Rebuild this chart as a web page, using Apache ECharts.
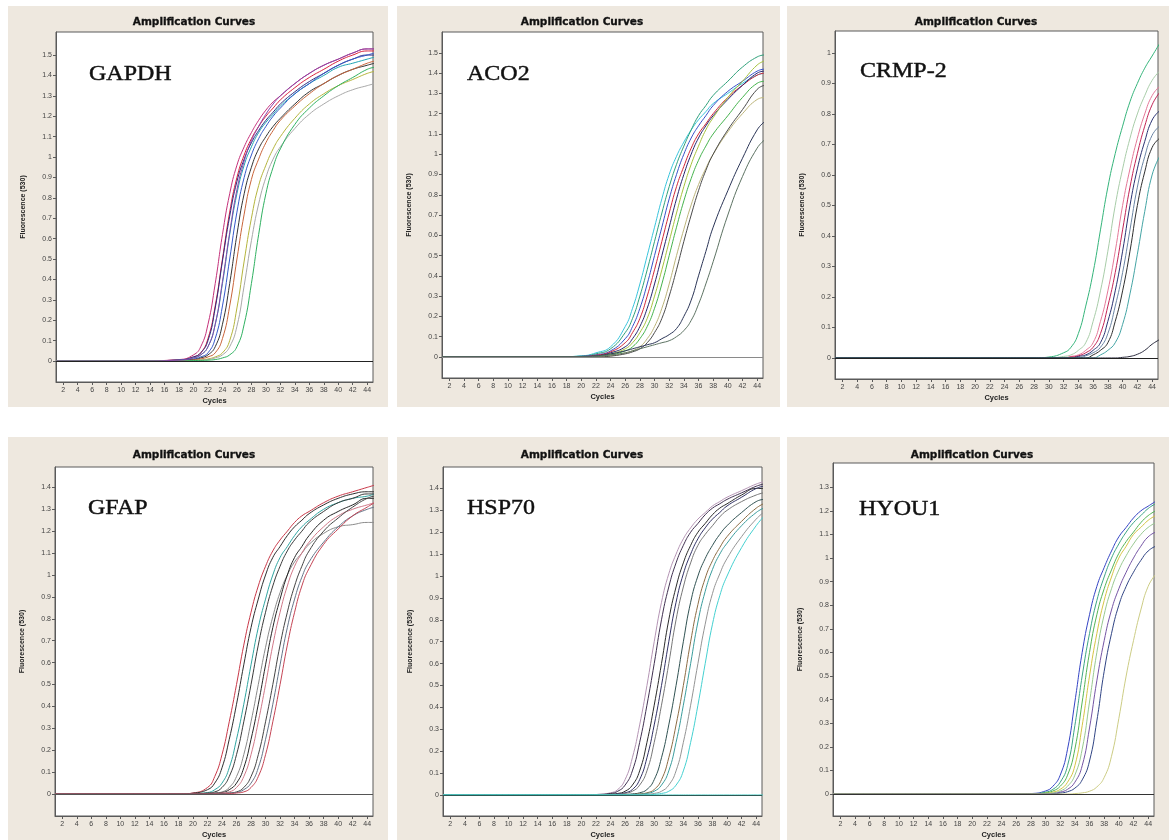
<!DOCTYPE html>
<html>
<head>
<meta charset="UTF-8">
<title>Amplification Curves</title>
<script src="https://cdn.jsdelivr.net/npm/echarts@6/dist/echarts.min.js"></script>
<style>
  html, body { margin: 0; padding: 0; background: #fff; }
  #main { width: 1169px; height: 840px; }
</style>
</head>
<body>
<div id="main"></div>
<script>
// ---- tick labels ----
var xTicks = [2, 4, 6, 8, 10, 12, 14, 16, 18, 20, 22, 24, 26, 28, 30, 32, 34, 36, 38, 40, 42, 44];
var yTicks15 = [0, 0.1, 0.2, 0.3, 0.4, 0.5, 0.6, 0.7, 0.8, 0.9, 1, 1.1, 1.2, 1.3, 1.4, 1.5];
var yTicks14 = [0, 0.1, 0.2, 0.3, 0.4, 0.5, 0.6, 0.7, 0.8, 0.9, 1, 1.1, 1.2, 1.3, 1.4];
var yTicks13 = [0, 0.1, 0.2, 0.3, 0.4, 0.5, 0.6, 0.7, 0.8, 0.9, 1, 1.1, 1.2, 1.3];
var yTicks10 = [0, 0.1, 0.2, 0.3, 0.4, 0.5, 0.6, 0.7, 0.8, 0.9, 1];

// ---- GAPDH ----
var gapdhCycles = [1, 12, 18, 20, 21, 22, 23, 24, 25, 26, 27, 28, 29, 30, 31, 32, 34, 36, 38, 40, 42, 44, 45];
var gapdhCurves = [
    [0, 0, 0.007, 0.03, 0.07, 0.18, 0.38, 0.62, 0.82, 0.96, 1.05, 1.12, 1.18, 1.23, 1.27, 1.30, 1.36, 1.41, 1.45, 1.48, 1.51, 1.53, 1.53],
    [0, 0, 0.005, 0.02, 0.04, 0.11, 0.27, 0.50, 0.73, 0.90, 1.01, 1.09, 1.15, 1.20, 1.24, 1.28, 1.34, 1.39, 1.43, 1.47, 1.50, 1.52, 1.52],
    [0, 0, 0.005, 0.02, 0.04, 0.10, 0.26, 0.49, 0.71, 0.88, 0.99, 1.07, 1.13, 1.18, 1.22, 1.26, 1.32, 1.37, 1.41, 1.45, 1.48, 1.50, 1.50],
    [0, 0, 0.004, 0.015, 0.03, 0.07, 0.18, 0.38, 0.62, 0.82, 0.96, 1.05, 1.12, 1.17, 1.21, 1.25, 1.31, 1.36, 1.40, 1.44, 1.46, 1.48, 1.49],
    [0, 0, 0.003, 0.01, 0.02, 0.04, 0.11, 0.27, 0.50, 0.73, 0.90, 1.01, 1.09, 1.15, 1.20, 1.24, 1.31, 1.36, 1.41, 1.45, 1.48, 1.50, 1.51],
    [0, 0, 0.002, 0.007, 0.015, 0.03, 0.07, 0.18, 0.38, 0.62, 0.82, 0.95, 1.04, 1.10, 1.15, 1.19, 1.26, 1.32, 1.36, 1.40, 1.43, 1.45, 1.46],
    [0, 0, 0.001, 0.005, 0.01, 0.02, 0.04, 0.11, 0.27, 0.50, 0.72, 0.89, 0.99, 1.07, 1.13, 1.18, 1.25, 1.31, 1.36, 1.40, 1.43, 1.46, 1.47],
    [0, 0, 0, 0.003, 0.005, 0.01, 0.02, 0.04, 0.10, 0.26, 0.49, 0.70, 0.86, 0.96, 1.04, 1.10, 1.19, 1.26, 1.31, 1.35, 1.38, 1.41, 1.42],
    [0, 0, 0, 0.002, 0.004, 0.007, 0.015, 0.03, 0.07, 0.17, 0.37, 0.59, 0.77, 0.90, 0.99, 1.05, 1.14, 1.21, 1.26, 1.30, 1.33, 1.35, 1.36],
    [0, 0, 0, 0.002, 0.003, 0.004, 0.007, 0.015, 0.03, 0.07, 0.18, 0.38, 0.62, 0.82, 0.95, 1.04, 1.16, 1.24, 1.30, 1.35, 1.39, 1.43, 1.44],
    [0, 0, 0.004, 0.015, 0.03, 0.07, 0.18, 0.39, 0.63, 0.84, 0.98, 1.08, 1.15, 1.21, 1.26, 1.30, 1.36, 1.41, 1.45, 1.48, 1.51, 1.53, 1.53]
];
var gapdhColors = ['#c4307a', '#d8203c', '#2c2c80', '#1fa3b3', '#3358c8', '#333333', '#c8643a', '#b4b43c', '#a8a8a8', '#2fb060', '#8a44a8'];

// ---- ACO2 ----
var aco2Cycles = [1, 10, 16, 20, 22, 24, 26, 27, 28, 29, 30, 31, 32, 33, 34, 35, 36, 37, 38, 40, 42, 44, 45];
var aco2Curves = [
    [0, 0, 0, 0.005, 0.02, 0.05, 0.15, 0.24, 0.36, 0.50, 0.64, 0.78, 0.90, 0.99, 1.06, 1.12, 1.17, 1.21, 1.25, 1.30, 1.35, 1.39, 1.40],
    [0, 0, 0, 0.004, 0.015, 0.04, 0.12, 0.19, 0.30, 0.43, 0.57, 0.71, 0.84, 0.95, 1.04, 1.12, 1.19, 1.24, 1.29, 1.36, 1.43, 1.48, 1.49],
    [0, 0, 0, 0.003, 0.01, 0.03, 0.09, 0.15, 0.24, 0.36, 0.50, 0.64, 0.78, 0.90, 1.00, 1.08, 1.14, 1.19, 1.24, 1.31, 1.36, 1.41, 1.42],
    [0, 0, 0, 0.002, 0.008, 0.025, 0.07, 0.12, 0.19, 0.30, 0.43, 0.57, 0.71, 0.84, 0.94, 1.03, 1.10, 1.15, 1.20, 1.28, 1.34, 1.39, 1.40],
    [0, 0, 0, 0.002, 0.005, 0.02, 0.05, 0.09, 0.15, 0.24, 0.36, 0.50, 0.64, 0.78, 0.90, 1.00, 1.08, 1.14, 1.19, 1.27, 1.34, 1.40, 1.41],
    [0, 0, 0, 0.001, 0.004, 0.015, 0.04, 0.07, 0.12, 0.19, 0.30, 0.43, 0.57, 0.71, 0.84, 0.95, 1.04, 1.12, 1.18, 1.28, 1.36, 1.44, 1.46],
    [0, 0, 0, 0, 0.003, 0.01, 0.03, 0.05, 0.09, 0.15, 0.24, 0.36, 0.50, 0.64, 0.77, 0.88, 0.97, 1.04, 1.10, 1.19, 1.28, 1.35, 1.36],
    [0, 0, 0, 0, 0, 0.005, 0.02, 0.03, 0.05, 0.09, 0.15, 0.24, 0.36, 0.50, 0.63, 0.75, 0.85, 0.93, 1.00, 1.11, 1.20, 1.27, 1.28],
    [0, 0, 0, 0, 0, 0.004, 0.015, 0.025, 0.04, 0.07, 0.12, 0.19, 0.30, 0.43, 0.57, 0.70, 0.82, 0.92, 1.00, 1.12, 1.22, 1.32, 1.34],
    [0, 0, 0, 0, 0.005, 0.015, 0.03, 0.04, 0.05, 0.06, 0.07, 0.09, 0.11, 0.14, 0.20, 0.28, 0.40, 0.52, 0.64, 0.82, 0.98, 1.12, 1.16],
    [0, 0, 0, 0, 0.003, 0.01, 0.02, 0.03, 0.04, 0.05, 0.06, 0.07, 0.08, 0.10, 0.13, 0.18, 0.26, 0.36, 0.47, 0.70, 0.89, 1.03, 1.07]
];
var aco2Colors = ['#38c4dc', '#2fa07a', '#3650c8', '#d02838', '#24246e', '#a6c23e', '#44b24c', '#bcb47a', '#4a4a4a', '#2a3456', '#5c7262'];

// ---- CRMP-2 ----
var crmpCycles = [1, 10, 20, 28, 30, 32, 33, 34, 35, 36, 37, 38, 39, 40, 41, 42, 43, 44, 45];
var crmpCurves = [
    [0, 0, 0, 0, 0.003, 0.017, 0.035, 0.08, 0.17, 0.28, 0.42, 0.56, 0.67, 0.76, 0.84, 0.90, 0.95, 0.99, 1.03],
    [0, 0, 0, 0, 0, 0.005, 0.01, 0.025, 0.05, 0.12, 0.22, 0.35, 0.50, 0.62, 0.72, 0.80, 0.86, 0.91, 0.94],
    [0, 0, 0, 0, 0, 0, 0.005, 0.01, 0.025, 0.05, 0.12, 0.22, 0.35, 0.50, 0.62, 0.72, 0.80, 0.86, 0.89],
    [0, 0, 0, 0, 0, 0, 0.003, 0.007, 0.017, 0.035, 0.08, 0.17, 0.28, 0.42, 0.56, 0.67, 0.76, 0.83, 0.87],
    [0, 0, 0, 0, 0, 0, 0, 0.005, 0.01, 0.025, 0.05, 0.12, 0.22, 0.35, 0.50, 0.62, 0.71, 0.78, 0.81],
    [0, 0, 0, 0, 0, 0, 0, 0, 0.007, 0.017, 0.035, 0.08, 0.17, 0.28, 0.42, 0.56, 0.66, 0.73, 0.76],
    [0, 0, 0, 0, 0, 0, 0, 0, 0, 0.01, 0.025, 0.05, 0.12, 0.22, 0.35, 0.50, 0.61, 0.69, 0.72],
    [0, 0, 0, 0, 0, 0, 0, 0, 0, 0, 0.01, 0.025, 0.05, 0.11, 0.21, 0.34, 0.48, 0.60, 0.66],
    [0, 0, 0, 0, 0, 0, 0, 0, 0, 0, 0, 0, 0, 0.002, 0.005, 0.012, 0.025, 0.045, 0.06]
];
var crmpColors = ['#34b47a', '#a8cca8', '#e47898', '#c22456', '#2a3272', '#6a84a4', '#2e2e2e', '#44a4a4', '#2e2e40'];

// ---- GFAP ----
var gfapCycles = [1, 10, 16, 18, 20, 22, 23, 24, 25, 26, 27, 28, 29, 30, 31, 32, 33, 34, 35, 36, 38, 40, 42, 44, 45];
var gfapCurves = [
    [0, 0, 0, 0, 0.005, 0.03, 0.08, 0.18, 0.33, 0.50, 0.68, 0.83, 0.95, 1.04, 1.11, 1.16, 1.20, 1.24, 1.27, 1.29, 1.33, 1.36, 1.38, 1.40, 1.41],
    [0, 0, 0, 0, 0.004, 0.02, 0.05, 0.12, 0.25, 0.41, 0.59, 0.76, 0.89, 1.00, 1.08, 1.13, 1.18, 1.22, 1.25, 1.28, 1.32, 1.35, 1.37, 1.38, 1.38],
    [0, 0, 0, 0, 0.002, 0.007, 0.02, 0.05, 0.12, 0.25, 0.41, 0.59, 0.76, 0.89, 1.00, 1.08, 1.13, 1.18, 1.22, 1.25, 1.30, 1.33, 1.35, 1.36, 1.37],
    [0, 0, 0, 0, 0.001, 0.005, 0.01, 0.03, 0.08, 0.18, 0.33, 0.50, 0.68, 0.83, 0.95, 1.04, 1.11, 1.16, 1.20, 1.24, 1.29, 1.33, 1.35, 1.37, 1.37],
    [0, 0, 0, 0, 0, 0.002, 0.005, 0.01, 0.03, 0.08, 0.18, 0.33, 0.50, 0.67, 0.81, 0.92, 1.00, 1.06, 1.10, 1.14, 1.19, 1.22, 1.23, 1.24, 1.24],
    [0, 0, 0, 0, 0, 0.002, 0.004, 0.007, 0.02, 0.05, 0.12, 0.25, 0.41, 0.59, 0.76, 0.89, 1.00, 1.08, 1.13, 1.18, 1.25, 1.29, 1.32, 1.35, 1.35],
    [0, 0, 0, 0, 0, 0, 0.002, 0.005, 0.01, 0.03, 0.08, 0.18, 0.33, 0.50, 0.68, 0.83, 0.95, 1.04, 1.10, 1.15, 1.22, 1.27, 1.30, 1.32, 1.33],
    [0, 0, 0, 0, 0, 0, 0, 0.002, 0.005, 0.01, 0.03, 0.08, 0.18, 0.33, 0.50, 0.68, 0.83, 0.95, 1.04, 1.11, 1.20, 1.26, 1.31, 1.35, 1.36],
    [0, 0, 0, 0, 0, 0, 0, 0.001, 0.004, 0.007, 0.02, 0.05, 0.12, 0.25, 0.41, 0.59, 0.76, 0.89, 0.99, 1.06, 1.15, 1.22, 1.27, 1.30, 1.31],
    [0, 0, 0, 0, 0, 0, 0, 0, 0.002, 0.005, 0.01, 0.03, 0.08, 0.18, 0.33, 0.50, 0.68, 0.83, 0.95, 1.03, 1.14, 1.21, 1.27, 1.31, 1.33]
];
var gfapColors = ['#c83848', '#2e2e2e', '#2fa4a0', '#3a3a3a', '#8a8a8a', '#262626', '#d07888', '#444444', '#647488', '#c44454'];

// ---- HSP70 ----
var hspCycles = [1, 10, 18, 20, 22, 24, 25, 26, 27, 28, 29, 30, 31, 32, 33, 34, 35, 36, 37, 38, 39, 40, 42, 44, 45];
var hspCurves = [
    [0, 0, 0, 0, 0.002, 0.01, 0.025, 0.07, 0.17, 0.32, 0.50, 0.70, 0.88, 1.01, 1.10, 1.17, 1.22, 1.26, 1.29, 1.32, 1.34, 1.36, 1.39, 1.42, 1.43],
    [0, 0, 0, 0, 0.002, 0.007, 0.017, 0.045, 0.11, 0.24, 0.41, 0.60, 0.80, 0.95, 1.06, 1.14, 1.20, 1.24, 1.28, 1.31, 1.33, 1.35, 1.38, 1.41, 1.42],
    [0, 0, 0, 0, 0, 0.004, 0.007, 0.017, 0.045, 0.11, 0.24, 0.41, 0.60, 0.80, 0.95, 1.06, 1.14, 1.20, 1.24, 1.28, 1.31, 1.33, 1.37, 1.40, 1.40],
    [0, 0, 0, 0, 0, 0.002, 0.005, 0.01, 0.025, 0.07, 0.17, 0.32, 0.50, 0.70, 0.88, 1.01, 1.10, 1.17, 1.22, 1.26, 1.29, 1.32, 1.36, 1.40, 1.41],
    [0, 0, 0, 0, 0, 0, 0.003, 0.007, 0.017, 0.045, 0.11, 0.24, 0.41, 0.60, 0.80, 0.95, 1.06, 1.14, 1.19, 1.23, 1.27, 1.30, 1.34, 1.37, 1.38],
    [0, 0, 0, 0, 0, 0, 0, 0.002, 0.005, 0.01, 0.025, 0.07, 0.17, 0.32, 0.50, 0.70, 0.88, 1.00, 1.08, 1.14, 1.19, 1.23, 1.29, 1.34, 1.35],
    [0, 0, 0, 0, 0, 0, 0, 0, 0.002, 0.005, 0.01, 0.025, 0.07, 0.17, 0.32, 0.50, 0.70, 0.87, 0.99, 1.07, 1.13, 1.18, 1.25, 1.31, 1.33],
    [0, 0, 0, 0, 0, 0, 0, 0, 0, 0.003, 0.007, 0.017, 0.045, 0.11, 0.24, 0.41, 0.60, 0.79, 0.93, 1.03, 1.10, 1.15, 1.23, 1.29, 1.31],
    [0, 0, 0, 0, 0, 0, 0, 0, 0, 0, 0.003, 0.007, 0.017, 0.045, 0.11, 0.24, 0.41, 0.60, 0.78, 0.92, 1.01, 1.08, 1.18, 1.26, 1.29],
    [0, 0, 0, 0, 0, 0, 0, 0, 0, 0, 0, 0.003, 0.007, 0.017, 0.045, 0.11, 0.24, 0.41, 0.60, 0.78, 0.91, 1.00, 1.13, 1.23, 1.27],
    [0, 0, 0, 0, 0, 0, 0, 0, 0, 0, 0, 0, 0, 0, 0, 0, 0, 0, 0, 0, 0, 0, 0, 0, 0]
];
var hspColors = ['#b494b4', '#403050', '#2a2a2a', '#303064', '#767676', '#305252', '#8c6c44', '#3a9c9c', '#949494', '#44d0d0', '#40c8c0'];

// ---- HYOU1 ----
var hyouCycles = [1, 10, 20, 26, 28, 30, 31, 32, 33, 34, 35, 36, 37, 38, 39, 40, 41, 42, 43, 44, 45];
var hyouCurves = [
    [0, 0, 0, 0, 0.002, 0.013, 0.033, 0.08, 0.19, 0.39, 0.60, 0.76, 0.88, 0.96, 1.03, 1.09, 1.13, 1.17, 1.20, 1.22, 1.24],
    [0, 0, 0, 0, 0.001, 0.008, 0.02, 0.05, 0.12, 0.29, 0.50, 0.68, 0.82, 0.92, 1.00, 1.06, 1.11, 1.15, 1.18, 1.21, 1.23],
    [0, 0, 0, 0, 0, 0.005, 0.013, 0.033, 0.08, 0.19, 0.39, 0.60, 0.76, 0.87, 0.95, 1.02, 1.07, 1.11, 1.15, 1.18, 1.20],
    [0, 0, 0, 0, 0, 0.003, 0.008, 0.02, 0.05, 0.12, 0.29, 0.50, 0.68, 0.82, 0.92, 1.00, 1.05, 1.10, 1.13, 1.16, 1.18],
    [0, 0, 0, 0, 0, 0.002, 0.005, 0.013, 0.033, 0.08, 0.19, 0.39, 0.60, 0.76, 0.87, 0.95, 1.01, 1.06, 1.10, 1.13, 1.15],
    [0, 0, 0, 0, 0, 0, 0.002, 0.008, 0.02, 0.05, 0.12, 0.28, 0.48, 0.65, 0.78, 0.87, 0.94, 1.00, 1.05, 1.09, 1.11],
    [0, 0, 0, 0, 0, 0, 0.001, 0.004, 0.01, 0.025, 0.06, 0.14, 0.31, 0.52, 0.68, 0.80, 0.88, 0.94, 0.99, 1.03, 1.05],
    [0, 0, 0, 0, 0, 0, 0, 0, 0, 0.002, 0.005, 0.012, 0.03, 0.07, 0.16, 0.32, 0.50, 0.65, 0.78, 0.88, 0.93]
];
var hyouColors = ['#3444c4', '#3ca484', '#54b454', '#d4c444', '#98c890', '#7454a4', '#304484', '#cccc84'];

// panel layout (pixels) and per-panel axis ranges
var panels = [
    { gene: 'GAPDH', cycles: gapdhCycles, curves: gapdhCurves, colors: gapdhColors, yTicks: yTicks15, yMin: -0.103, yMax: 1.613, zero: '#222',
      box: [8, 6, 380, 401], grid: [56, 32, 317, 350], titleX: 194, titleY: 22, geneX: 89, geneY: 63.5 },
    { gene: 'ACO2', cycles: aco2Cycles, curves: aco2Curves, colors: aco2Colors, yTicks: yTicks15, yMin: -0.104, yMax: 1.603, zero: '#8a8a8a',
      box: [397, 6, 383, 401], grid: [442, 32, 321, 346], titleX: 582, titleY: 22, geneX: 467, geneY: 64 },
    { gene: 'CRMP-2', cycles: crmpCycles, curves: crmpCurves, colors: crmpColors, yTicks: yTicks10, yMin: -0.069, yMax: 1.072, zero: '#222',
      box: [787, 6, 382, 401], grid: [835, 31, 323, 348], titleX: 976, titleY: 22, geneX: 860, geneY: 61 },
    { gene: 'GFAP', cycles: gfapCycles, curves: gfapCurves, colors: gfapColors, yTicks: yTicks14, yMin: -0.1, yMax: 1.493, zero: '#555',
      box: [8, 437, 380, 403], grid: [55, 467, 318, 349], titleX: 194, titleY: 455, geneX: 88, geneY: 498 },
    { gene: 'HSP70', cycles: hspCycles, curves: hspCurves, colors: hspColors, yTicks: yTicks14, yMin: -0.096, yMax: 1.498, zero: '#2d5a55',
      box: [397, 437, 383, 403], grid: [443, 467, 319, 349], titleX: 582, titleY: 455, geneX: 467, geneY: 498 },
    { gene: 'HYOU1', cycles: hyouCycles, curves: hyouCurves, colors: hyouColors, yTicks: yTicks13, yMin: -0.093, yMax: 1.403, zero: '#333',
      box: [787, 437, 382, 403], grid: [833, 463, 321, 353], titleX: 972, titleY: 455, geneX: 859, geneY: 499 }
];

var chart = echarts.init(document.getElementById('main'), null, { renderer: 'canvas' });

var grids = [], xAxes = [], yAxes = [], series = [], graphics = [];
var axisFont = 'Liberation Sans';

panels.forEach(function (p, idx) {
    graphics.push({
        type: 'rect', z: -10, silent: true,
        shape: { x: p.box[0], y: p.box[1], width: p.box[2], height: p.box[3] },
        style: { fill: '#eee8df' }
    });
    graphics.push({
        type: 'text', silent: true, x: p.titleX, y: p.titleY,
        style: { text: 'Amplification Curves', fill: '#111', align: 'center', verticalAlign: 'middle',
                 fontFamily: 'DejaVu Sans', fontSize: 10.5, fontWeight: 'bold',
                 stroke: '#111', lineWidth: 0.3 }
    });
    // gene name: slightly squashed serif, thickened with a thin stroke
    graphics.push({
        type: 'text', silent: true, z: 10, x: p.geneX, y: p.geneY, scaleY: 0.88,
        style: { text: p.gene, fill: '#111', align: 'left', verticalAlign: 'top',
                 fontFamily: 'Liberation Serif', fontSize: 24, stroke: '#111', lineWidth: 0.5 }
    });

    grids.push({
        left: p.grid[0], top: p.grid[1], width: p.grid[2], height: p.grid[3],
        show: true, backgroundColor: '#fff', borderColor: '#5a5a5a', borderWidth: 1
    });

    xAxes.push({
        gridIndex: idx, type: 'value', min: 1, max: 44.8,
        name: 'Cycles', nameLocation: 'middle', nameGap: 15,
        nameTextStyle: { fontFamily: axisFont, fontSize: 7.5, fontWeight: 'bold', color: '#222' },
        axisLine: { onZero: false, lineStyle: { color: '#5a5a5a' } },
        axisTick: { show: true, length: 3, customValues: xTicks, lineStyle: { color: '#5a5a5a' } },
        axisLabel: { customValues: xTicks, fontFamily: axisFont, fontSize: 7, color: '#444', margin: 5 },
        splitLine: { show: false }
    });

    yAxes.push({
        gridIndex: idx, type: 'value', min: p.yMin, max: p.yMax,
        name: 'Fluorescence (530)', nameLocation: 'middle', nameGap: 29, nameRotate: 90,
        nameTextStyle: { fontFamily: axisFont, fontSize: 7, fontWeight: 'bold', color: '#222' },
        axisLine: { show: true, lineStyle: { color: '#5a5a5a' } },
        axisTick: { show: true, length: 3, customValues: p.yTicks, lineStyle: { color: '#5a5a5a' } },
        axisLabel: {
            customValues: p.yTicks, fontFamily: axisFont, fontSize: 7, color: '#444', margin: 4,
            formatter: function (v) { return String(Math.round(v * 10) / 10); }
        },
        splitLine: { show: false }
    });

    p.curves.forEach(function (vals, k) {
        var s = {
            type: 'line', xAxisIndex: idx, yAxisIndex: idx,
            data: p.cycles.map(function (c, i) { return [c, vals[i]]; }),
            showSymbol: false, symbol: 'none', smooth: 0.5,
            lineStyle: { width: 1, color: p.colors[k] },
            silent: true, z: 3
        };
        if (k === 0) {
            s.markLine = {
                silent: true, symbol: 'none', label: { show: false },
                lineStyle: { color: p.zero, width: 1, type: 'solid' },
                data: [{ yAxis: 0 }]
            };
        }
        series.push(s);
    });
});

chart.setOption({
    backgroundColor: '#ffffff',
    animation: false,
    graphic: graphics,
    grid: grids,
    xAxis: xAxes,
    yAxis: yAxes,
    series: series
});
</script>
</body>
</html>
